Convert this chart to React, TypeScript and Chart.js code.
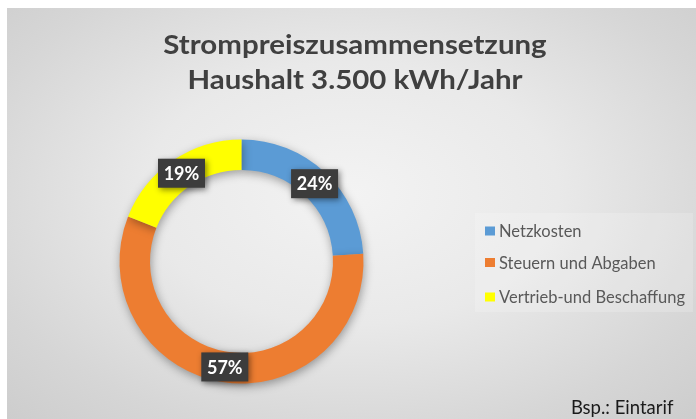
import React, { useEffect, useRef } from "react";
import { Chart, registerables } from "chart.js";

Chart.register(...registerables);

const titleLines = ["Strompreiszusammensetzung", "Haushalt 3.500 kWh/Jahr"];
const categories = ["Netzkosten", "Steuern und Abgaben", "Vertrieb-und Beschaffung"];
const shares = [24, 57, 19];
const colors = ["#5B9BD5", "#ED7D31", "#FFFF00"];
const footnote = "Bsp.: Eintarif";

const FONT = "Lato, 'Open Sans', sans-serif";

const decor = {
  id: "decor",
  beforeDatasetsDraw(chart: any) {
    const ctx = chart.ctx;
    ctx.save();
    ctx.shadowColor = "rgba(0,0,0,0.35)";
    ctx.shadowBlur = 10;
    ctx.shadowOffsetX = 1;
    ctx.shadowOffsetY = 3;
  },
  afterDatasetsDraw(chart: any) {
    const ctx = chart.ctx;
    ctx.restore();
    const meta = chart.getDatasetMeta(0);
    const total = shares.reduce((a, b) => a + b, 0);
    meta.data.forEach((arc: any, i: number) => {
      const p = arc.getCenterPoint();
      const text = Math.round((shares[i] / total) * 100) + "%";
      const w = 47;
      const h = 29;
      ctx.save();
      ctx.shadowColor = "rgba(0,0,0,0.45)";
      ctx.shadowBlur = 6;
      ctx.shadowOffsetX = 2;
      ctx.shadowOffsetY = 2;
      ctx.fillStyle = "#3c3c3c";
      ctx.fillRect(p.x - w / 2, p.y - h / 2, w, h);
      ctx.restore();
      ctx.save();
      ctx.fillStyle = "#ffffff";
      ctx.font = "bold 18px " + FONT;
      ctx.textAlign = "center";
      ctx.textBaseline = "middle";
      ctx.fillText(text, p.x, p.y + 1);
      ctx.restore();
    });
  },
  afterDraw(chart: any) {
    const ctx = chart.ctx;
    ctx.save();
    // title
    ctx.fillStyle = "#404040";
    ctx.font = "bold 27px " + FONT;
    ctx.textAlign = "center";
    ctx.textBaseline = "alphabetic";
    ctx.save();
    ctx.translate(348, 0);
    ctx.scale(1.09, 1);
    ctx.fillText(titleLines[0], 0, 45.5);
    ctx.fillText(titleLines[1], 0, 81);
    ctx.restore();

    // legend background
    ctx.fillStyle = "rgba(255,255,255,0.18)";
    ctx.fillRect(468, 205, 218, 99);

    // legend
    const rows = [223, 254.5, 289];
    ctx.font = "16.5px " + FONT;
    ctx.textAlign = "left";
    ctx.textBaseline = "middle";
    categories.forEach((c, i) => {
      ctx.fillStyle = colors[i];
      ctx.fillRect(478, rows[i] - 4.5, 10, 9);
      ctx.fillStyle = "#595959";
      ctx.fillText(c, 492, rows[i] + 1);
    });

    // footnote
    ctx.fillStyle = "#1a1a1a";
    ctx.font = "18.5px " + FONT;
    ctx.textAlign = "left";
    ctx.textBaseline = "alphabetic";
    ctx.fillText(footnote, 564, 406);
    ctx.restore();
  },
};

export default function App() {
  const ref = useRef<HTMLCanvasElement | null>(null);

  useEffect(() => {
    if (!ref.current) return;
    const chart = new Chart(ref.current, {
      type: "doughnut",
      data: {
        labels: categories,
        datasets: [
          {
            data: shares,
            backgroundColor: colors,
            borderWidth: 0,
            clip: false,
          } as any,
        ],
      },
      options: {
        responsive: false,
        animation: false,
        cutout: "75%",
        layout: {
          padding: { left: 1, right: 221, top: 131.5, bottom: 35.5 },
        },
        plugins: {
          legend: { display: false },
          title: { display: false },
          tooltip: { enabled: false },
        },
      },
      plugins: [decor],
    });
    return () => chart.destroy();
  }, []);

  return (
    <div
      style={{
        position: "absolute",
        left: 7,
        top: 8,
        width: 689,
        height: 411,
        background:
          "radial-gradient(ellipse 75% 80% at 50% 45%, #f3f3f3 0%, #e9e9e9 40%, #d6d6d6 75%, #cbcbcb 100%)",
      }}
    >
      <canvas ref={ref} width={689} height={411} style={{ display: "block" }} />
    </div>
  );
}
